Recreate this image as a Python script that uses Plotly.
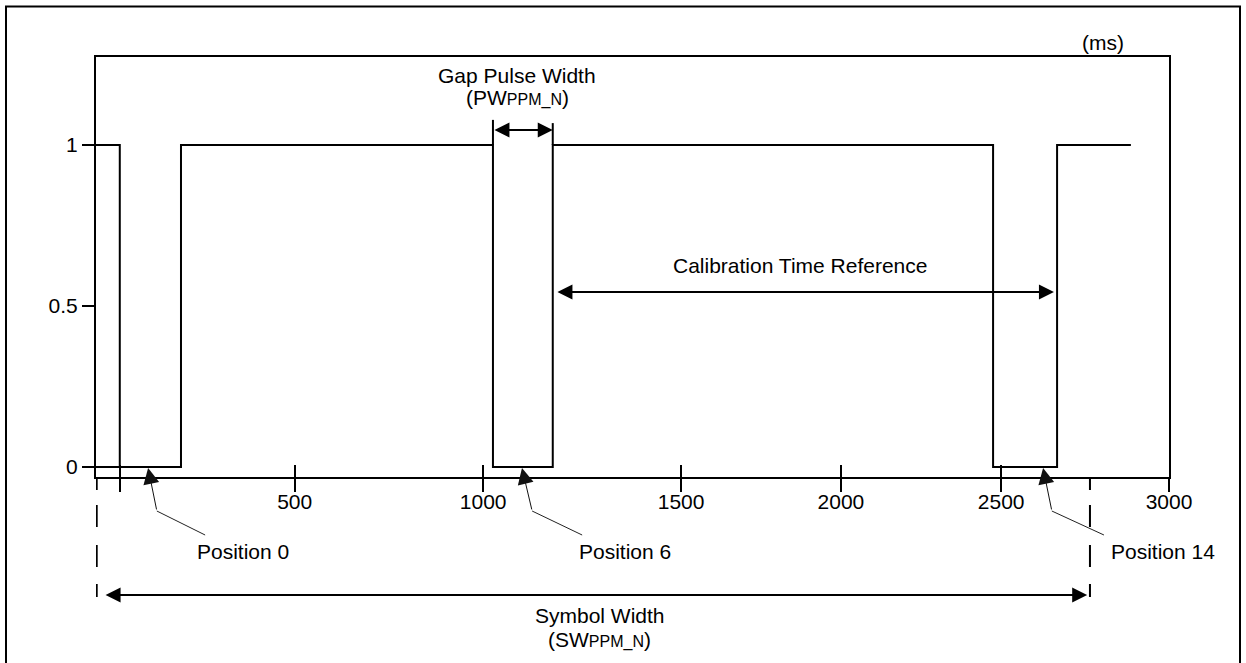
import plotly.graph_objects as go

# ---------------- data (diagram time units, as drawn) ----------------
wave_t = [-68, 0, 175, 1067, 1238, 2497, 2680, 2891]
wave_v = [1, 0, 1, 0, 1, 0, 1, 1]

tick_pos = [0, 500, 1039, 1605, 2062, 2520, 3000]
tick_labels = ["", "500", "1000", "1500", "2000", "2500", "3000"]
y_ticks = [0, 0.5, 1]
y_labels = ["0", "0.5", "1"]

gap_start, gap_end = 1067, 1238
cal_start, cal_end = 1247, 2671
sym_start, sym_end = -66, 2774

pos_names = ["Position 0", "Position 6", "Position 14"]
pos_tip = [81, 1150, 2640]
pos_bend = [106, 1179, 2665]
pos_end = [244, 1322, 2814]
pos_label_x = [215, 1307, 2829]

FONT = "Liberation Sans, Arial, sans-serif"
BLACK = "#000000"

X_RANGE = [-68, 3000]
Y_RANGE = [-10 / 322, 410 / 322]
PLOT_H = 420.0


def py(px_below_axis):
    """paper y for a point given in px below the x axis line"""
    return -px_below_axis / PLOT_H


fig = go.Figure()

# waveform
fig.add_trace(go.Scatter(x=wave_t, y=wave_v, mode="lines",
                         line=dict(color=BLACK, width=2, shape="hv"),
                         hoverinfo="skip", showlegend=False))
# low reference line at the start
fig.add_trace(go.Scatter(x=[wave_t[0], wave_t[1]], y=[0, 0], mode="lines",
                         line=dict(color=BLACK, width=2),
                         hoverinfo="skip", showlegend=False))
# gap pulse extension lines
fig.add_trace(go.Scatter(x=[gap_start, gap_start, None, gap_end, gap_end],
                         y=[1, 1.078, None, 1, 1.068], mode="lines",
                         line=dict(color=BLACK, width=2),
                         hoverinfo="skip", showlegend=False))
# dummy trace for overlay tick axis
fig.add_trace(go.Scatter(x=[tick_pos[1]], y=[0], mode="lines", xaxis="x2",
                         line=dict(color="rgba(0,0,0,0)"),
                         hoverinfo="skip", showlegend=False))

annotations = []
tfont = dict(family=FONT, size=21, color=BLACK)
sub = "<span style='font-size:16px'>PPM_N</span>"


def dbl_arrow(x0, x1, y, yref):
    return dict(x=x1, y=y, xref="x", yref=yref,
                ax=x0, ay=0, axref="x", ayref="pixel",
                text="", showarrow=True, arrowhead=2, startarrowhead=2,
                arrowside="end+start", arrowsize=1.5, startarrowsize=1.5,
                arrowwidth=2, arrowcolor=BLACK, standoff=0, startstandoff=0)


annotations.append(dbl_arrow(gap_start, gap_end, 1.0466, "y"))
annotations.append(dbl_arrow(cal_start, cal_end, 0.5435, "y"))
annotations.append(dbl_arrow(sym_start + 21, sym_end - 8, py(118), "paper"))


def label(x, y, text, yref, xanchor="center"):
    return dict(x=x, y=y, xref="x", yref=yref, text=text, showarrow=False,
                xanchor=xanchor, yanchor="middle", font=tfont)


annotations.append(label(1136, 1.2174, "Gap Pulse Width", "y"))
annotations.append(label(1136, 1.146, "(PW" + sub + ")", "y"))
annotations.append(label(1945, 0.627, "Calibration Time Reference", "y"))
annotations.append(label(2811, py(-434), "(ms)", "paper"))
annotations.append(label(1373, py(138), "Symbol Width", "paper"))
annotations.append(label(1373, py(162), "(SW" + sub + ")", "paper"))

shapes = []
for name, tip, bend, end, lx in zip(pos_names, pos_tip, pos_bend, pos_end, pos_label_x):
    annotations.append(dict(x=tip, y=-0.003, xref="x", yref="y",
                            ax=bend, ay=43, axref="x", ayref="pixel",
                            text="", showarrow=True, arrowhead=2, arrowsize=3.2,
                            arrowwidth=1, arrowcolor="#111111", standoff=0))
    annotations.append(label(lx, py(74), name, "paper", xanchor="left"))
    shapes.append(dict(type="line", xref="x", yref="paper",
                       x0=bend, y0=py(34), x1=end, y1=py(58),
                       line=dict(color="#222222", width=1)))

# dashed symbol boundaries
for xb in (sym_start, sym_end):
    shapes.append(dict(type="line", xref="x", yref="paper", x0=xb, x1=xb,
                       y0=0, y1=py(120),
                       line=dict(color=BLACK, width=2,
                                 dash="13px,15px,22px,18px,22px,17px,22px")))

# outer border
shapes.append(dict(type="rect", xref="paper", yref="paper",
                   x0=(6 - 96) / 1073, x1=(1240 - 96) / 1073,
                   y0=py(223), y1=py(-470.5),
                   line=dict(color=BLACK, width=2), fillcolor="rgba(0,0,0,0)"))

fig.update_layout(
    width=1246, height=663,
    margin=dict(l=96, r=77, t=57, b=186, pad=0),
    paper_bgcolor="white", plot_bgcolor="white",
    font=dict(family=FONT, size=21, color=BLACK),
    showlegend=False,
    xaxis=dict(range=X_RANGE, tickvals=tick_pos, ticktext=tick_labels,
               ticks="outside", ticklen=13, tickwidth=2, tickcolor=BLACK,
               ticklabelstandoff=-8,
               showline=True, linewidth=2, linecolor=BLACK, mirror=True,
               showgrid=False, zeroline=False,
               tickfont=dict(family=FONT, size=21, color=BLACK)),
    xaxis2=dict(range=X_RANGE, overlaying="x", anchor="y", side="bottom",
                tickvals=tick_pos[:-1], ticks="inside", ticklen=12, tickwidth=2,
                tickcolor=BLACK, showticklabels=False, showline=False,
                showgrid=False, zeroline=False),
    yaxis=dict(range=Y_RANGE, tickvals=y_ticks, ticktext=y_labels,
               ticks="outside", ticklen=12, tickwidth=2, tickcolor=BLACK,
               showline=True, linewidth=2, linecolor=BLACK, mirror=True,
               showgrid=False, zeroline=False,
               tickfont=dict(family=FONT, size=21, color=BLACK)),
    annotations=annotations,
    shapes=shapes,
)

fig.write_html("out.html", config={"displayModeBar": False},
               post_script="document.body.style.margin='0';document.body.style.overflow='hidden';")
